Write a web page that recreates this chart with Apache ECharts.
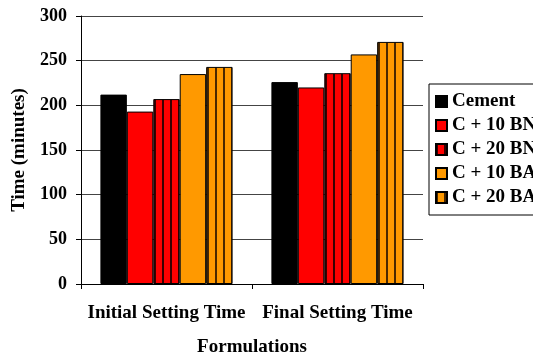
<!DOCTYPE html>
<html>
<head>
<meta charset="utf-8">
<script src="https://cdn.jsdelivr.net/npm/echarts@6/dist/echarts.min.js"></script>
<style>
  html, body { margin: 0; padding: 0; background: #fff; }
  #chart { width: 533px; height: 356px; }
</style>
</head>
<body>
<div id="chart"></div>
<script>
// Setting times (minutes) for each formulation
const categories = ['Initial Setting Time', 'Final Setting Time'];
const seriesNames = ['Cement', 'C + 10 BN', 'C + 20 BN', 'C + 10 BA', 'C + 20 BA'];
const cement = [212, 226];
const c10bn = [193, 220];
const c20bn = [207, 236];
const c10ba = [235, 257];
const c20ba = [243, 271];
const yTicks = [0, 50, 100, 150, 200, 250, 300];

const FONT = '"Liberation Serif", "Times New Roman", serif';
const STRIPE_PERIOD = 8;

// Tile with a single dark vertical stripe, shifted so stripes start at a bar's left edge
function stripeTile(base, line, phase) {
  const c = document.createElement('canvas');
  c.width = STRIPE_PERIOD;
  c.height = 8;
  const ctx = c.getContext('2d');
  ctx.fillStyle = base;
  ctx.fillRect(0, 0, c.width, c.height);
  ctx.fillStyle = line;
  const p = ((phase % STRIPE_PERIOD) + STRIPE_PERIOD) % STRIPE_PERIOD;
  ctx.fillRect(p, 0, 2, c.height);
  ctx.fillRect(p - STRIPE_PERIOD, 0, 2, c.height);
  return { image: c, repeat: 'repeat' };
}

const RED = '#ff0000', ORANGE = '#ff9900';
const RED_LINE = '#3a0000', ORANGE_LINE = '#4a2800';

function barSeries(name, values, color) {
  return {
    name: name,
    type: 'bar',
    data: values.slice(),
    barGap: '0%',
    barCategoryGap: '22.7%',
    itemStyle: { color: color, borderColor: '#000', borderWidth: 1 },
    emphasis: { disabled: true }
  };
}

const chart = echarts.init(document.getElementById('chart'), null, { renderer: 'canvas' });

const option = {
  animation: false,
  backgroundColor: '#fff',
  textStyle: { fontFamily: FONT },
  grid: { left: 81, right: 110, top: 16, bottom: 72, containLabel: false, outerBoundsMode: 'none' },
  legend: {
    orient: 'vertical',
    left: 429,
    top: 84,
    padding: [8, 30, 8, 6],
    itemGap: 5,
    itemWidth: 11,
    itemHeight: 11,
    borderColor: '#000',
    borderWidth: 1,
    backgroundColor: '#fff',
    selectedMode: false,
    textStyle: { fontFamily: FONT, fontWeight: 'bold', fontSize: 19, color: '#000', lineHeight: 18 },
    data: seriesNames.map(n => ({ name: n, icon: 'rect' }))
  },
  xAxis: {
    type: 'category',
    data: categories,
    name: 'Formulations',
    nameLocation: 'middle',
    nameGap: 54,
    nameTextStyle: { fontFamily: FONT, fontWeight: 'bold', fontSize: 19, color: '#000' },
    axisLine: { lineStyle: { color: '#000', width: 1 } },
    axisTick: { show: true, length: 5, lineStyle: { color: '#000' } },
    axisLabel: { interval: 0, hideOverlap: false, fontFamily: FONT, fontWeight: 'bold', fontSize: 19, color: '#000', margin: 20 },
    splitLine: { show: false }
  },
  yAxis: {
    type: 'value',
    min: yTicks[0],
    max: yTicks[yTicks.length - 1],
    interval: yTicks[1] - yTicks[0],
    name: 'Time (minutes)',
    nameLocation: 'middle',
    nameGap: 52,
    nameTextStyle: { fontFamily: FONT, fontWeight: 'bold', fontSize: 19, color: '#000' },
    axisLine: { show: true, lineStyle: { color: '#000', width: 1 } },
    axisTick: { show: true, length: 5, lineStyle: { color: '#000' } },
    axisLabel: { fontFamily: FONT, fontWeight: 'bold', fontSize: 18, color: '#000', margin: 14 },
    splitLine: { show: true, lineStyle: { color: '#444', width: 1 } }
  },
  series: [
    barSeries(seriesNames[0], cement, '#000'),
    barSeries(seriesNames[1], c10bn, RED),
    barSeries(seriesNames[2], c20bn, stripeTile(RED, RED_LINE, 0)),
    barSeries(seriesNames[3], c10ba, ORANGE),
    barSeries(seriesNames[4], c20ba, stripeTile(ORANGE, ORANGE_LINE, 0))
  ]
};

chart.setOption(option);

// Align the stripes of each patterned bar with that bar's left edge
const striped = [
  { index: 2, values: c20bn, base: RED, line: RED_LINE },
  { index: 4, values: c20ba, base: ORANGE, line: ORANGE_LINE }
];
const update = { series: option.series.map(() => ({})) };
striped.forEach(s => {
  const data = chart.getModel().getSeriesByIndex(s.index).getData();
  update.series[s.index] = {
    data: s.values.map((v, i) => {
      const layout = data.getItemLayout(i);
      const left = Math.round(layout.x) + 1;
      return { value: v, itemStyle: { color: stripeTile(s.base, s.line, left) } };
    })
  };
});
chart.setOption(update);
</script>
</body>
</html>
